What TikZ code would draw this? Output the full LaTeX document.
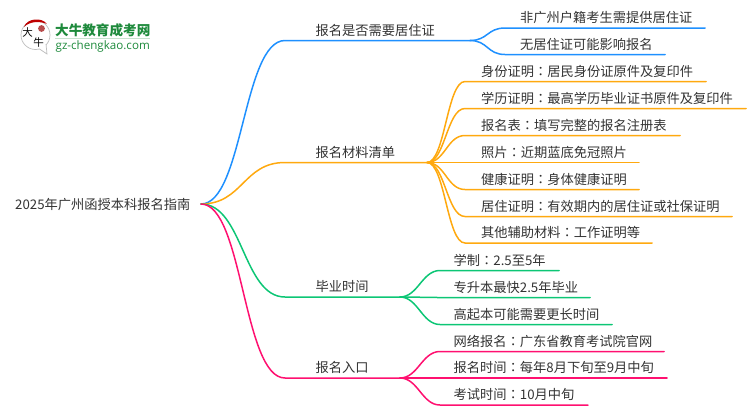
\documentclass[tikz,border=0pt]{standalone}
\usepackage{fontspec}
\usetikzlibrary{calc}
\setmainfont{Noto Sans CJK SC}
\newfontfamily\tcf{Noto Sans CJK TC}
\newfontfamily\latinf{Open Sans}
\newcommand{\cc}{{\tcf ：}}
\definecolor{cblue}{HTML}{1E90FF}
\definecolor{corange}{HTML}{FFA90F}
\definecolor{cgreen}{HTML}{0CC675}
\definecolor{cpink}{HTML}{FF1070}
\definecolor{clogo}{HTML}{1E8A3C}
\tikzset{
  lab/.style={anchor=base west,inner sep=0pt,text=black!80,font=\fontsize{13.25}{13.25}\selectfont},
  conn/.style={line width=1.5pt,line cap=round},
}
\begin{document}
\begin{tikzpicture}[x=1pt,y=-1pt]
\useasboundingbox (0,0) rectangle (750,410);
% logo
\draw[black!25,line width=.7pt,fill=white] (35.5,35) circle (14.5);
\fill[white] (39,48) -- (47,54) -- (46,43) -- cycle;
\draw[black!25,line width=.7pt] (39.5,49) -- (47,54) -- (46,44);
\fill[red!75!black] (24,27) .. controls (27,18) and (42,17) .. (47,24) .. controls (40,21) and (30,21) .. (24,27) -- cycle;
\fill[red!60!black!70] (41.5,28.5) circle (3.4);
\node[inner sep=0pt,font=\fontsize{10.5}{10.5}\selectfont] (logoa) at (27.5,32.5) {大};
\node[inner sep=0pt,font=\fontsize{10.5}{10.5}\selectfont] (logob) at (38.5,43) {牛};
\node[lab,text=clogo,font=\fontsize{13.6}{13.6}\bfseries\selectfont] (logot) at (55,35) {大牛教育成考网};
\fill[clogo!25] (55,38) rectangle (150,39);
\node[lab,text=clogo,font=\latinf\fontsize{11.6}{11.6}\selectfont] (logou) at (55.5,49) {gz-chengkao.com};
% root
\node[lab] (root) at (15,209) {2025年广州函授本科报名指南};
\coordinate (r) at (201,204);
% main branches
\coordinate (a) at (470,40.5); \coordinate (b) at (427,162.5);
\coordinate (c) at (400,297); \coordinate (d) at (400,378);
\draw[conn,cblue] (r) .. controls (243,204) and (243,40.5) .. (285,40.5) -- (a);
\draw[conn,corange] (r) .. controls (243,204) and (243,162.5) .. (285,162.5) -- (b);
\draw[conn,cgreen] (r) .. controls (243,204) and (243,297) .. (285,297) -- (c);
\draw[conn,cpink] (r) .. controls (243,204) and (243,378) .. (285,378) -- (d);
\node[lab] (na) at (315.5,35) {报名是否需要居住证};
\node[lab] (nb) at (315.5,157) {报名材料清单};
\node[lab] (nc) at (315.5,291.5) {毕业时间};
\node[lab] (nd) at (315.5,372.5) {报名入口};
% leaves: parent, colour, curve end x, y, line end x, text x, name, text
\foreach \p/\col/\sx/\y/\ex/\tx/\nm/\txt in {
 a/cblue/505/28/705/520/a1/非广州户籍考生需提供居住证,
 a/cblue/505/54.5/665/520/a2/无居住证可能影响报名,
 b/corange/465/81.5/706/481/b1/身份证明\cc 居民身份证原件及复印件,
 b/corange/465/108.5/746/481/b2/学历证明\cc 最高学历毕业证书原件及复印件,
 b/corange/465/135.5/680/481/b3/报名表\cc 填写完整的报名注册表,
 b/corange/465/162.5/639/481/b4/照片\cc 近期蓝底免冠照片,
 b/corange/465/189.5/639/481/b5/健康证明\cc 身体健康证明,
 b/corange/465/216.5/732/481/b6/居住证明\cc 有效期内的居住证或社保证明,
 b/corange/465/243/652/481/b7/其他辅助材料\cc 工作证明等,
 c/cgreen/440/270.5/559/453.5/c1/学制\cc 2.5至5年,
 c/cgreen/440/297.5/590/453.5/c2/专升本最快2.5年毕业,
 c/cgreen/440/324.5/612/453.5/c3/高起本可能需要更长时间,
 d/cpink/440/351.5/664/453.5/d1/网络报名\cc 广东省教育考试院官网,
 d/cpink/440/378/667/453.5/d2/报名时间\cc 每年8月下旬至9月中旬,
 d/cpink/440/405/588/453.5/d3/考试时间\cc 10月中旬}
{
  \node[lab] (\nm) at (\tx,\y-5.5) {\txt};
  \coordinate (\nm s) at (\sx,\y);
  \coordinate (\nm e) at (\ex,\y);
  \draw[conn,\col] (\p) .. controls ($(\p)+(18,0)$) and ($(\nm s)+(-18,0)$) .. (\nm s) -- (\nm e);
}
\end{tikzpicture}
\end{document}
